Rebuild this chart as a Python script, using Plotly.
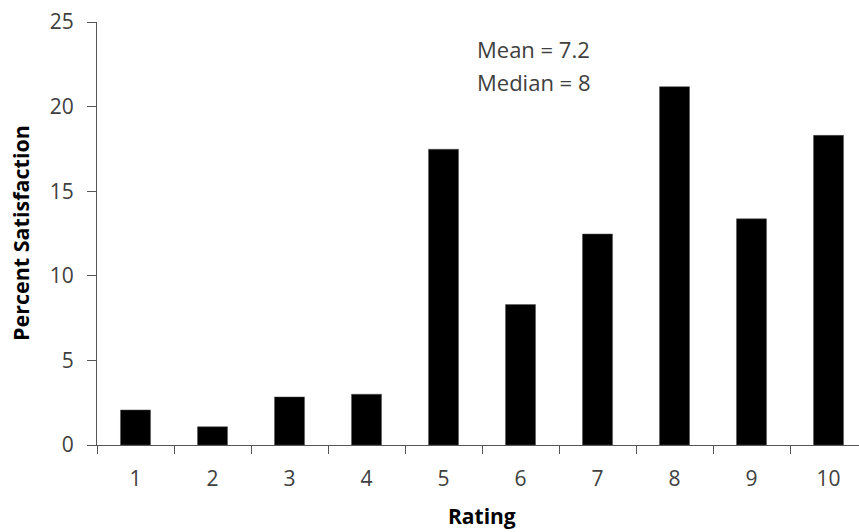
import plotly.graph_objects as go

ratings = ["1", "2", "3", "4", "5", "6", "7", "8", "9", "10"]
percent = [2.07, 1.08, 2.84, 3.0, 17.48, 8.3, 12.47, 21.18, 13.37, 18.3]
y_ticks = [0, 5, 10, 15, 20, 25]
stats_lines = ["Mean = 7.2", "Median = 8"]

FONT = "Open Sans"
TXT = "#404040"
L, R, T, B = 97, 0, 22, 87
W, H = 859, 532
PW, PH = W - L - R, H - T - B


def px_x(px):
    return (px - L) / PW


def px_y(py):
    return (H - B - py) / PH


fig = go.Figure(go.Bar(x=ratings, y=percent,
                       marker=dict(color="black", line=dict(color="#555555", width=0.5))))

fig.update_layout(
    width=W, height=H,
    margin=dict(l=L, r=R, t=T, b=B, autoexpand=False),
    paper_bgcolor="white", plot_bgcolor="white",
    bargap=0.61,
    showlegend=False,
    font=dict(family=FONT, size=22, color=TXT),
)
fig.update_xaxes(
    type="category", range=[-0.5, 9.396], automargin=False,
    showline=True, linecolor="#555555", linewidth=1,
    ticks="outside", tickson="boundaries", ticklen=8, tickcolor="#555555",
    showgrid=False, zeroline=False,
    tickfont=dict(family=FONT, size=21, color=TXT),
    ticklabelstandoff=15,
)
fig.update_yaxes(
    range=[0, 25], tickvals=y_ticks, automargin=False,
    showline=True, linecolor="#555555", linewidth=1,
    ticks="outside", ticklen=9, tickcolor="#555555",
    showgrid=False, zeroline=False,
    tickfont=dict(family=FONT, size=21, color=TXT),
    ticklabelstandoff=9,
)
# axis titles
fig.add_annotation(x=px_x(20), y=px_y(233), xref="paper", yref="paper",
                   text="<b>Percent Satisfaction</b>", textangle=-90, showarrow=False,
                   xanchor="center", yanchor="middle",
                   font=dict(family=FONT, size=21.5, color="black"))
fig.add_annotation(x=px_x(482), y=px_y(516), xref="paper", yref="paper",
                   text="<b>Rating</b>", showarrow=False,
                   xanchor="center", yanchor="middle",
                   font=dict(family=FONT, size=21, color="black"))
# stats text
for i, line in enumerate(stats_lines):
    fig.add_annotation(x=px_x(475), y=px_y(49 + 33 * i), xref="paper", yref="paper",
                       text=line, showarrow=False, xanchor="left", yanchor="middle",
                       font=dict(family=FONT, size=22, color=TXT))
fig.write_html("out.html", config={"displayModeBar": False},
               post_script="document.body.style.margin='0';document.body.style.overflow='hidden';")
